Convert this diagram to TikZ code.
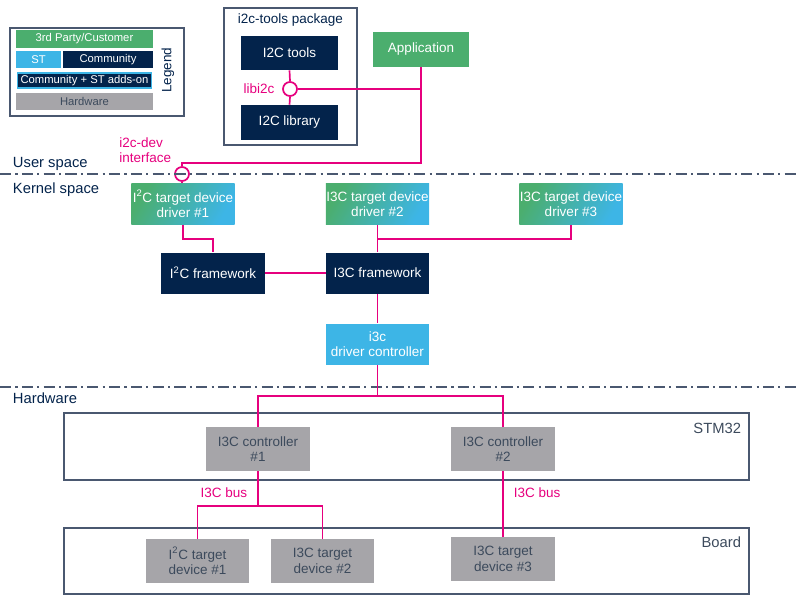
\documentclass[tikz,border=0pt]{standalone}
\usepackage{fontspec}
\setmainfont{Liberation Sans}
\usetikzlibrary{positioning,calc}
\definecolor{stgreen}{HTML}{4BAE6E}
\definecolor{stcyan}{HTML}{3DB5E6}
\definecolor{stnavy}{HTML}{03234B}
\definecolor{stgray}{HTML}{A6A5A9}
\definecolor{stpink}{HTML}{E6007E}
\definecolor{stframe}{HTML}{4A5870}
\definecolor{sttext}{HTML}{3C4A5C}
\begin{document}
\begin{tikzpicture}[x=0.025cm,y=-0.025cm,
	font=\fontsize{9.6}{11}\selectfont,
	box/.style={rectangle, inner sep=0pt, align=center, minimum width=2.575cm, minimum height=1.025cm},
	third/.style={box, fill=stgreen, text=white},
	st/.style={box, fill=stcyan, text=white},
	comm/.style={box, fill=stnavy, text=white},
	mixed/.style={box, left color=stgreen, right color=stcyan, shading angle=60, text=white},
	hw/.style={box, fill=stgray, text=sttext, minimum height=1.1cm},
	frame/.style={draw=stframe, line width=1pt},
	link/.style={draw=stpink, line width=1.2pt},
	plug/.style={circle, draw=stpink, fill=white, line width=1.2pt, inner sep=0pt, minimum size=0.35cm},
	pinklabel/.style={text=stpink, align=center},
	space/.style={draw=stframe, line width=0.9pt, dash pattern=on 8pt off 3pt on 1.5pt off 3pt}]
	\useasboundingbox (0,0) rectangle (800,600);
	% Legende
		\draw[frame] (10,28) rectangle (184,116);
		\node[third, minimum width=3.425cm, minimum height=0.45cm, font=\fontsize{8}{9}\selectfont] (lgThird) at (84.5,39) {3rd Party/Customer};
		\node[st, minimum width=1.125cm, minimum height=0.425cm, font=\fontsize{8}{9}\selectfont] (lgST) at (38.5,59.5) {ST};
		\node[comm, minimum width=2.25cm, minimum height=0.425cm, font=\fontsize{8}{9}\selectfont] (lgComm) at (108,59.5) {Community};
		\node[comm, draw=stcyan, line width=1.2pt, minimum width=3.35cm, minimum height=0.38cm, font=\fontsize{8}{9}\selectfont] (lgAdd) at (84.5,80.5) {Community + ST adds-on};
		\node[hw, minimum width=3.425cm, minimum height=0.425cm, font=\fontsize{8}{9}\selectfont] (lgHw) at (84.5,101.5) {Hardware};
		\node[rotate=90, text=stnavy] (lgTitle) at (168,70) {Legend};
	% Espacio de usuario
		\draw[frame] (224,8) rectangle (357,145);
		\node[text=stnavy] (pkgTitle) at (290.5,20) {i2c-tools package};
		\node[comm, minimum width=2.425cm, minimum height=0.85cm] (tools) at (289.5,53) {I2C tools};
		\node[comm, minimum width=2.425cm, minimum height=0.875cm] (library) at (289.5,122.5) {I2C library};
		\node[plug] (libc) at (290,89) {};
		\node[pinklabel, left=2pt of libc] (libLabel) {libi2c};
		\node[third, minimum width=2.4cm, minimum height=0.875cm] (app) at (421,49.5) {Application};
		\node[plug] (devc) at (182,174) {};
		\node[pinklabel, anchor=south east, align=left] (devLabel) at (176,168) {i2c-dev\\interface};
		\coordinate (appBend) at (421,163);
	% Lineas de separacion
		\draw[space] (0,174) -- (800,174);
		\draw[space] (0,387) -- (800,387);
		\node[anchor=south west, text=stnavy, font=\fontsize{10.5}{12}\selectfont] (userLbl) at (8,176) {User space};
		\node[anchor=north west, text=stnavy, font=\fontsize{10.5}{12}\selectfont] (kernLbl) at (8,178) {Kernel space};
		\node[anchor=north west, text=stnavy, font=\fontsize{10.5}{12}\selectfont] (hwLbl) at (8,388) {Hardware};
	% Espacio de kernel
		\node[mixed] (drvA) at (183,204) {I\textsuperscript{2}C target device\\driver \#1};
		\node[mixed] (drvB) at (377.5,204) {I3C target device\\driver \#2};
		\node[mixed] (drvC) at (571,204) {I3C target device\\driver \#3};
		\node[comm] (fwI2C) at (213,273) {I\textsuperscript{2}C framework};
		\node[comm] (fwI3C) at (377.5,273) {I3C framework};
		\node[st] (ctrlDrv) at (377.5,344) {i3c\\driver controller};
	% Hardware
		\draw[frame] (64,413) rectangle (749,480);
		\node[anchor=north east, text=sttext, font=\fontsize{10.5}{12}\selectfont] (stmLbl) at (746,418) {STM32};
		\node[hw] (ctrlA) at (258,449) {I3C controller\\\#1};
		\node[hw] (ctrlB) at (503,449) {I3C controller\\\#2};
		\draw[frame] (64,528) rectangle (749,594);
		\node[anchor=north east, text=sttext, font=\fontsize{10.5}{12}\selectfont] (boardLbl) at (746,532) {Board};
		\node[hw] (devA) at (197.5,561) {I\textsuperscript{2}C target\\device \#1};
		\node[hw] (devB) at (322.5,561) {I3C target\\device \#2};
		\node[hw] (devC) at (503,559) {I3C target\\device \#3};
		\coordinate (busA) at (258,506);
		\node[pinklabel, anchor=east] (busALbl) at (252,493) {I3C bus};
		\node[pinklabel, anchor=west] (busBLbl) at (509,493) {I3C bus};
	% Conexiones
		\draw[link] (tools.south) -- (libc.north);
		\draw[link] (libc.south) -- (library.north);
		\draw[link] (libc.east) -- (libc.east -| app.south);
		\draw[link] (app.south) -- (appBend) -| (devc.north);
		\draw[link] (devc.south) -- (devc.south |- drvA.north);
		\draw[link] (drvA.south) |- ++(0,14) -| (fwI2C.north);
		\draw[link] (drvB.south) -- (fwI3C.north);
		\draw[link] (drvC.south) |- ($(drvB.south)+(0,14)$);
		\draw[link] (fwI2C.east) -- (fwI3C.west);
		\draw[link] (fwI3C.south) -- (ctrlDrv.north);
		\draw[link] (ctrlDrv.south) |- ++(0,31) -| (ctrlA.north);
		\draw[link] (ctrlDrv.south) ++(0,31) -| (ctrlB.north);
		\draw[link] (ctrlA.south) -- (busA);
		\draw[link] (busA) -| (devA.north);
		\draw[link] (busA) -| (devB.north);
		\draw[link] (ctrlB.south) -- (devC.north);
\end{tikzpicture}
\end{document}
